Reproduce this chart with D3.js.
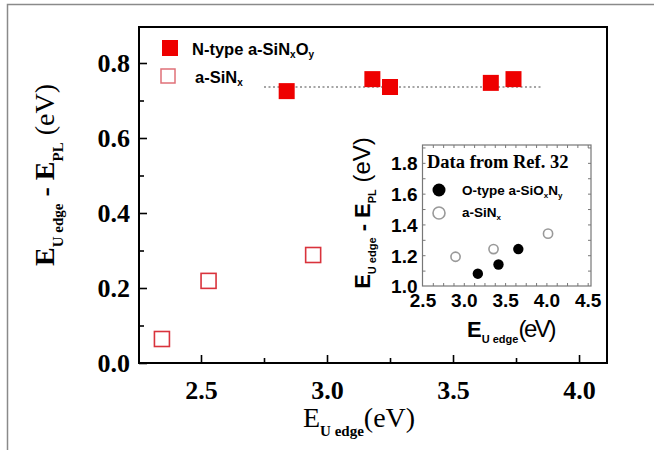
<!DOCTYPE html>
<html lang="en">
<head>
  <meta charset="UTF-8">
  <title>E_U edge - E_PL</title>
  <style>
    body { margin: 0; background: #fff; }
    svg { display: block; }
  </style>
</head>
<body>
<script src="https://cdn.jsdelivr.net/npm/d3@7"></script>
<script>
  // main plot: N-type a-SiNxOy (filled) and a-SiNx (open)
  var nTypeX = [2.84, 3.18, 3.25, 3.65, 3.74]
  var nTypeY = [0.725, 0.757, 0.736, 0.747, 0.757]
  var siNxX = [2.345, 2.53, 2.945]
  var siNxY = [0.064, 0.219, 0.288]
  var guideX = [2.75, 3.85]
  var guideY = 0.736
  var xTicks = [2.5, 3.0, 3.5, 4.0]
  var yTicks = [0.0, 0.2, 0.4, 0.6, 0.8]

  // inset: data from Ref. 32
  var oTypeX = [3.17, 3.42, 3.66]
  var oTypeY = [1.08, 1.14, 1.24]
  var refSiNxX = [2.9, 3.36, 4.02]
  var refSiNxY = [1.19, 1.24, 1.34]
  var insetXTicks = [2.5, 3.0, 3.5, 4.0, 4.5]
  var insetYTicks = [1.0, 1.2, 1.4, 1.6, 1.8]

  var width = 654, height = 450
  var serif = '"Liberation Serif", "Times New Roman", serif'
  var sans = '"Liberation Sans", Arial, sans-serif'

  var svg = d3.select('body').append('svg')
    .attr('width', width)
    .attr('height', height)

  // outer grey frame (cut at right and bottom)
  svg.append('path')
    .attr('d', 'M7.5,450 V4.5 H654')
    .attr('fill', 'none')
    .attr('stroke', '#8a8a8a')
    .attr('stroke-width', 1.5)

  var x = d3.scaleLinear().domain([2.254, 4.111]).range([139, 607])
  var y = d3.scaleLinear().domain([0, 0.896]).range([363, 27])

  // minor ticks, inward
  var g = svg.append('g')
  g.append('g').attr('transform', 'translate(0,363)')
    .call(d3.axisBottom(x).tickValues([2.75, 3.25, 3.75]).tickSize(-5).tickFormat(''))
  g.append('g').attr('transform', 'translate(139,0)')
    .call(d3.axisLeft(y).tickValues([0.1, 0.3, 0.5, 0.7]).tickSize(-5).tickFormat(''))

  var xAxis = g.append('g').attr('transform', 'translate(0,363)')
    .call(d3.axisBottom(x).tickValues(xTicks).tickSize(-8).tickPadding(18).tickFormat(d3.format('.1f')))
  var yAxis = g.append('g').attr('transform', 'translate(139,0)')
    .call(d3.axisLeft(y).tickValues(yTicks).tickSize(-8).tickPadding(9).tickFormat(d3.format('.1f')))

  g.selectAll('.domain').remove()
  g.selectAll('.tick line').attr('stroke', '#000').attr('stroke-width', 1.6)
  g.selectAll('.tick text')
    .attr('font-family', serif).attr('font-weight', 'bold').attr('font-size', 26).attr('fill', '#000')
  xAxis.selectAll('.tick text').attr('dy', '0.7em')
  yAxis.selectAll('.tick text').attr('dy', '0.34em')

  svg.append('rect')
    .attr('x', 139).attr('y', 27)
    .attr('width', 607 - 139).attr('height', 363 - 27)
    .attr('fill', 'none').attr('stroke', '#000').attr('stroke-width', 2)

  // dotted guide line
  svg.append('line')
    .attr('x1', x(guideX[0])).attr('x2', x(guideX[1]))
    .attr('y1', y(guideY)).attr('y2', y(guideY))
    .attr('stroke', '#888').attr('stroke-width', 1.5)
    .attr('stroke-dasharray', '2,2.5')

  var sq = 16
  svg.append('g').selectAll('rect')
    .data(d3.zip(nTypeX, nTypeY))
    .enter().append('rect')
    .attr('x', d => x(d[0]) - sq / 2).attr('y', d => y(d[1]) - sq / 2)
    .attr('width', sq).attr('height', sq)
    .attr('fill', '#ee0000')

  var osq = 15
  svg.append('g').selectAll('rect')
    .data(d3.zip(siNxX, siNxY))
    .enter().append('rect')
    .attr('x', d => x(d[0]) - osq / 2).attr('y', d => y(d[1]) - osq / 2)
    .attr('width', osq).attr('height', osq)
    .attr('fill', 'none').attr('stroke', '#d9333c').attr('stroke-width', 1.6)

  // legend
  svg.append('rect').attr('x', 162).attr('y', 40).attr('width', 16).attr('height', 16).attr('fill', '#ee0000')
  svg.append('rect').attr('x', 161).attr('y', 69).attr('width', 14).attr('height', 14)
    .attr('fill', 'none').attr('stroke', '#e07078').attr('stroke-width', 1.5)
  var leg1 = svg.append('text').attr('x', 192).attr('y', 55)
    .attr('font-family', sans).attr('font-weight', 'bold').attr('font-size', 16.5)
  leg1.append('tspan').text('N-type a-SiN')
  leg1.append('tspan').attr('font-size', 10).attr('dy', 3).text('x')
  leg1.append('tspan').attr('dy', -3).text('O')
  leg1.append('tspan').attr('font-size', 10).attr('dy', 3).text('y')
  var leg2 = svg.append('text').attr('x', 195).attr('y', 83)
    .attr('font-family', sans).attr('font-weight', 'bold').attr('font-size', 16.5)
  leg2.append('tspan').text('a-SiN')
  leg2.append('tspan').attr('font-size', 10).attr('dy', 3).text('x')

  // axis titles
  var xt = svg.append('text').attr('x', 303).attr('y', 427)
    .attr('font-family', serif).attr('font-size', 28)
  xt.append('tspan').text('E')
  xt.append('tspan').attr('font-size', 15).attr('font-weight', 'bold').attr('dy', 9).text('U edge')
  xt.append('tspan').attr('dy', -9).text('(eV)')

  var yt = svg.append('text')
    .attr('transform', 'translate(54,175) rotate(-90)')
    .attr('text-anchor', 'middle')
    .attr('font-family', serif).attr('font-size', 28)
  yt.append('tspan').attr('font-weight', 'bold').text('E')
  yt.append('tspan').attr('font-size', 15).attr('font-weight', 'bold').attr('dy', 9).text('U edge')
  yt.append('tspan').attr('font-weight', 'bold').attr('dy', -9).text(' - E')
  yt.append('tspan').attr('font-size', 15).attr('font-weight', 'bold').attr('dy', 9).text('PL')
  yt.append('tspan').attr('dy', -9).text(' (eV)')

  // ---- inset ----
  var ix = d3.scaleLinear().domain([2.5, 4.54]).range([422.5, 591])
  var iy = d3.scaleLinear().domain([1.0, 1.916]).range([286, 145])

  var ig = svg.append('g')
  var minorX = d3.range(2.625, 4.54, 0.125)
  var minorY = d3.range(1.1, 1.916, 0.1)
  ig.append('g').attr('transform', 'translate(0,286)')
    .call(d3.axisBottom(ix).tickValues(minorX).tickSize(-3).tickFormat(''))
  ig.append('g').attr('transform', 'translate(0,145)')
    .call(d3.axisTop(ix).tickValues(minorX).tickSize(-3).tickFormat(''))
  ig.append('g').attr('transform', 'translate(422.5,0)')
    .call(d3.axisLeft(iy).tickValues(minorY).tickSize(-3).tickFormat(''))
  ig.append('g').attr('transform', 'translate(591,0)')
    .call(d3.axisRight(iy).tickValues(minorY).tickSize(-3).tickFormat(''))

  var ixAxis = ig.append('g').attr('transform', 'translate(0,286)')
    .call(d3.axisBottom(ix).tickValues(insetXTicks).tickSize(0).tickPadding(7).tickFormat(d3.format('.1f')))
  var iyAxis = ig.append('g').attr('transform', 'translate(422.5,0)')
    .call(d3.axisLeft(iy).tickValues(insetYTicks).tickSize(0).tickPadding(5).tickFormat(d3.format('.1f')))
  ig.selectAll('.domain').remove()
  ig.selectAll('.tick line').attr('stroke', '#777').attr('stroke-width', 1)
  ig.selectAll('.tick text')
    .attr('font-family', sans).attr('font-weight', 'bold').attr('font-size', 19).attr('fill', '#000')
  ixAxis.selectAll('.tick text').attr('dy', '0.72em')
  iyAxis.selectAll('.tick text').attr('dy', '0.36em')

  svg.append('rect')
    .attr('x', 422.5).attr('y', 145).attr('width', 591 - 422.5).attr('height', 286 - 145)
    .attr('fill', 'none').attr('stroke', '#777').attr('stroke-width', 1.2)

  svg.append('text').attr('x', 427).attr('y', 168)
    .attr('font-family', serif).attr('font-weight', 'bold').attr('font-size', 18.5)
    .text('Data from Ref. 32')

  svg.append('g').selectAll('circle')
    .data(d3.zip(refSiNxX, refSiNxY))
    .enter().append('circle')
    .attr('cx', d => ix(d[0])).attr('cy', d => iy(d[1])).attr('r', 4.6)
    .attr('fill', 'none').attr('stroke', '#999').attr('stroke-width', 1.6)
  svg.append('g').selectAll('circle')
    .data(d3.zip(oTypeX, oTypeY))
    .enter().append('circle')
    .attr('cx', d => ix(d[0])).attr('cy', d => iy(d[1])).attr('r', 5.2)
    .attr('fill', '#000')

  svg.append('circle').attr('cx', 439).attr('cy', 190).attr('r', 6.5).attr('fill', '#000')
  svg.append('circle').attr('cx', 439).attr('cy', 213).attr('r', 6)
    .attr('fill', 'none').attr('stroke', '#999').attr('stroke-width', 1.6)
  var il1 = svg.append('text').attr('x', 462).attr('y', 195)
    .attr('font-family', sans).attr('font-weight', 'bold').attr('font-size', 13.5)
  il1.append('tspan').text('O-type a-SiO')
  il1.append('tspan').attr('font-size', 8).attr('dy', 3).text('x')
  il1.append('tspan').attr('dy', -3).text('N')
  il1.append('tspan').attr('font-size', 8).attr('dy', 3).text('y')
  var il2 = svg.append('text').attr('x', 462).attr('y', 217)
    .attr('font-family', sans).attr('font-weight', 'bold').attr('font-size', 13.5)
  il2.append('tspan').text('a-SiN')
  il2.append('tspan').attr('font-size', 8).attr('dy', 3).text('x')

  var ixt = svg.append('text').attr('x', 467).attr('y', 337)
    .attr('font-family', sans).attr('font-size', 22)
  ixt.append('tspan').attr('font-weight', 'bold').text('E')
  ixt.append('tspan').attr('font-size', 11).attr('font-weight', 'bold').attr('dy', 6).text('U edge')
  ixt.append('tspan').attr('dy', -6).attr('font-size', 24).attr('textLength', 38).text('(eV)')

  var iyt = svg.append('text')
    .attr('transform', 'translate(370,213) rotate(-90)')
    .attr('text-anchor', 'middle')
    .attr('font-family', sans).attr('font-size', 22)
  iyt.append('tspan').attr('font-weight', 'bold').text('E')
  iyt.append('tspan').attr('font-size', 11).attr('font-weight', 'bold').attr('dy', 6).text('U edge')
  iyt.append('tspan').attr('font-weight', 'bold').attr('dy', -6).text(' - E')
  iyt.append('tspan').attr('font-size', 11).attr('font-weight', 'bold').attr('dy', 6).text('PL')
  iyt.append('tspan').attr('dy', -6).attr('font-size', 24).text(' (eV)')
</script>
</body>
</html>
